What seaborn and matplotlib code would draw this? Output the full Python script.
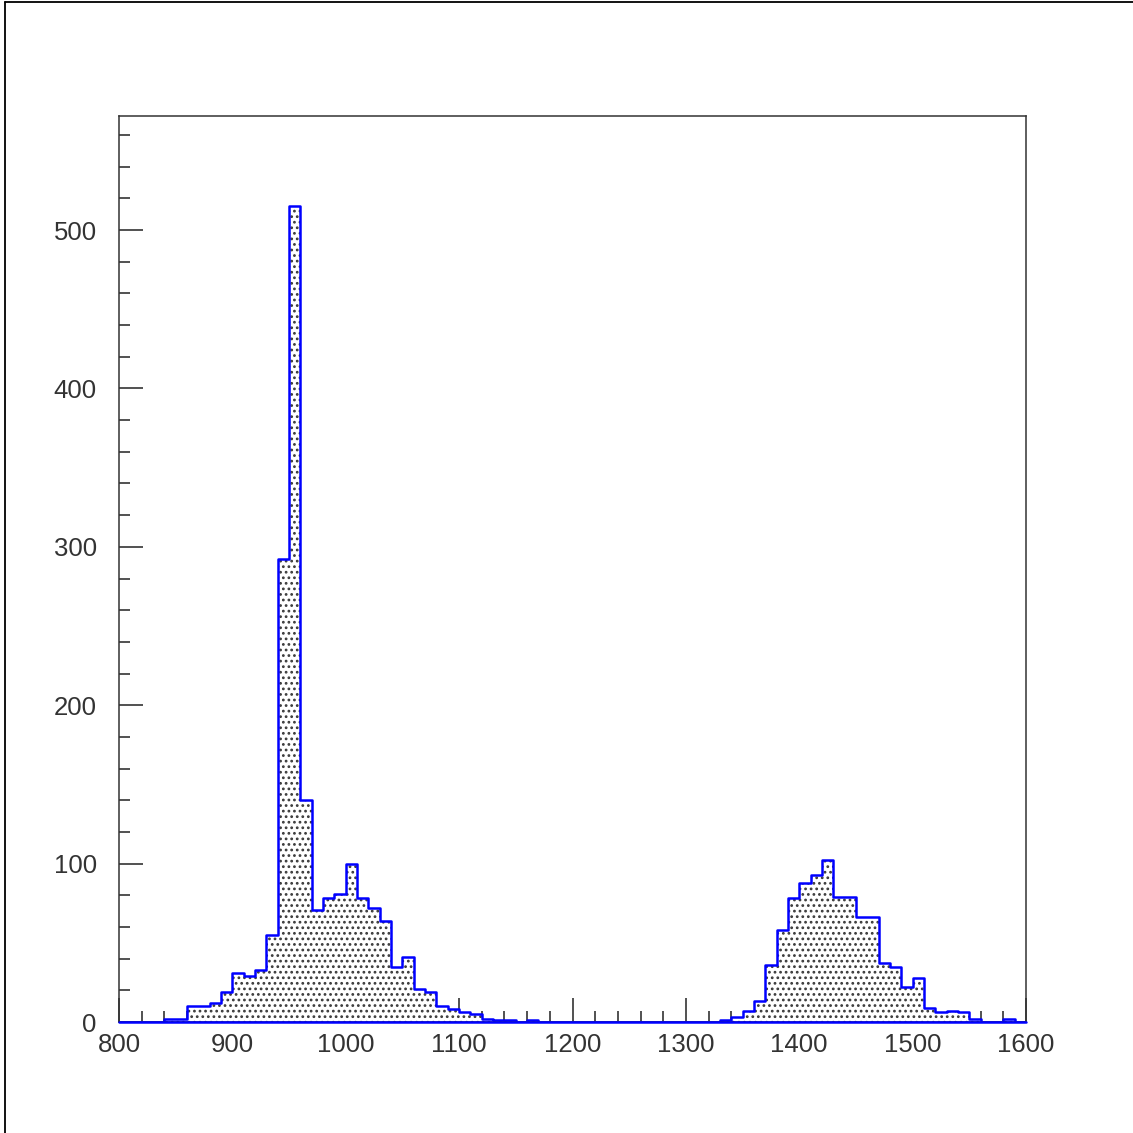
import numpy as np
import pandas as pd
import matplotlib
matplotlib.use("Agg")
import matplotlib.pyplot as plt
import seaborn as sns
from matplotlib.lines import Line2D
from matplotlib.ticker import MultipleLocator

# Histogram: bins of width 10 from 800 to 1600
bin_lo = 800
bin_hi = 1600
bin_width = 10
counts = [
    # 800-890
    0, 0, 0, 0, 2, 2, 10, 10, 12, 19,
    # 900-990
    31, 29, 33, 55, 292, 515, 140, 71, 78, 81,
    # 1000-1090
    100, 78, 72, 64, 35, 41, 21, 19, 10, 8,
    # 1100-1190
    6, 5, 2, 1, 1, 0, 1, 0, 0, 0,
    # 1200-1290
    0, 0, 0, 0, 0, 0, 0, 0, 0, 0,
    # 1300-1390
    0, 0, 0, 1, 3, 7, 13, 36, 58, 78,
    # 1400-1490
    88, 93, 102, 79, 79, 66, 66, 37, 35, 22,
    # 1500-1590
    28, 9, 6, 7, 6, 2, 0, 0, 2, 0,
]
x_ticks = [800, 900, 1000, 1100, 1200, 1300, 1400, 1500, 1600]
y_ticks = [0, 100, 200, 300, 400, 500]

edges = np.arange(bin_lo, bin_hi + bin_width, bin_width)
centers = edges[:-1] + bin_width / 2
df = pd.DataFrame({"x": centers, "w": counts})

sns.set_style("white")
plt.rcParams['font.family'] = ['Liberation Sans', 'DejaVu Sans']
plt.rcParams['hatch.linewidth'] = 1.2

fig = plt.figure(figsize=(11.33, 11.33), dpi=100)
ax = fig.add_axes([119 / 1133, 1 - 1022 / 1133, 907 / 1133, 906 / 1133])

hist_kws = dict(data=df, x="x", weights="w", binwidth=bin_width,
                binrange=(bin_lo, bin_hi), element="step", ax=ax)
# dotted fill
sns.histplot(**hist_kws, fill=True, facecolor="white", edgecolor="#3a3a3a",
             linewidth=0, hatch="...", alpha=1)
# blue outline
sns.histplot(**hist_kws, fill=False, color="#0000ff", linewidth=1.8)

ax.set_xlim(bin_lo, bin_hi)
ax.set_ylim(0, 572)
ax.set_xlabel("")
ax.set_ylabel("")
ax.set_xticks(x_ticks)
ax.set_yticks(y_ticks)
ax.xaxis.set_minor_locator(MultipleLocator(20))
ax.yaxis.set_minor_locator(MultipleLocator(20))
ax.tick_params(axis="both", which="both", direction="in", top=False, right=False,
               bottom=True, left=True, color="#222222", width=1.1)
ax.tick_params(axis="x", which="major", length=17, labelsize=18.5, pad=8, labelcolor="#333333")
ax.tick_params(axis="x", which="minor", length=8)
ax.tick_params(axis="y", which="major", length=17, labelsize=18.5, pad=16, labelcolor="#333333")
ax.tick_params(axis="y", which="minor", length=8)
for s in ax.spines.values():
    s.set_color("#333333")
    s.set_linewidth(1.1)
    s.set_visible(True)

# blue baseline of the histogram frame, drawn over the bottom spine
ax.plot([bin_lo, bin_hi], [0, 0], color="#0000ff", linewidth=1.8, zorder=6, clip_on=False)

# outer pad border (left and top)
fig.add_artist(Line2D([5 / 1133, 5 / 1133], [0, 1 - 2 / 1133], transform=fig.transFigure,
                      color="black", linewidth=1.3))
fig.add_artist(Line2D([5 / 1133, 1], [1 - 2 / 1133, 1 - 2 / 1133], transform=fig.transFigure,
                      color="black", linewidth=1.3))

fig.savefig("out.png", dpi=100)
